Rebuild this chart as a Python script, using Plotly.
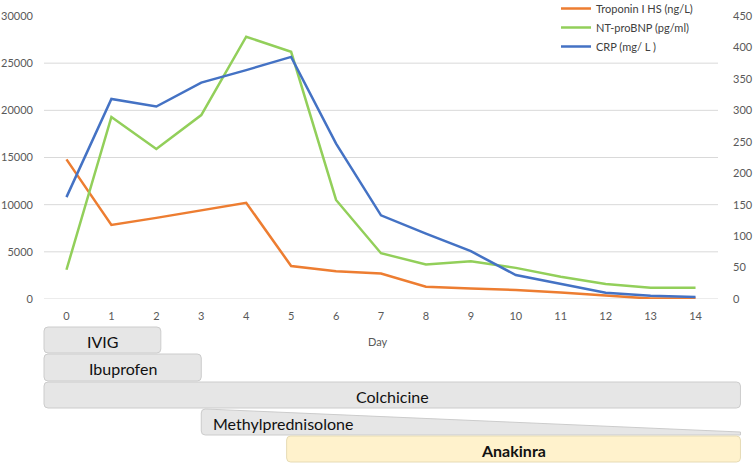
import plotly.graph_objects as go

# ---------------- data ----------------
days = list(range(15))
troponin = [14800, 7850, 8600, 9400, 10200, 3500, 2950, 2700, 1300, 1100, 950, 700, 350, 50, 50]
ntprobnp = [3100, 19300, 15900, 19500, 27800, 26200, 10500, 4850, 3650, 4000, 3300, 2350, 1600, 1200, 1200]
crp = [162, 318, 306, 344, 364, 385, 247, 133, 104, 76, 38, 24, 10, 5, 3]

left_ticks = [0, 5000, 10000, 15000, 20000, 25000, 30000]
right_ticks = [0, 50, 100, 150, 200, 250, 300, 350, 400, 450]

treatments = ["IVIG", "Ibuprofen", "Colchicine", "Methylprednisolone", "Anakinra"]
treat_start = [-0.5, -0.5, -0.5, 3.0, 4.9]
treat_end = [2.1, 3.0, 15.0, 15.0, 15.0]

# ---------------- layout constants ----------------
W, H = 753, 467
ML, MR, MT, MB = 44, 35, 16, 168
PW = W - ML - MR
PH = H - MT - MB
XR = [-0.5, 14.5]
FONT = "Lato"
TICK_COLOR = "#595959"
GRID = "#d9d9d9"


def px_y(p):
    """pixel row -> paper y"""
    return (H - MB - p) / PH


def day_x(d):
    return (d - XR[0]) / (XR[1] - XR[0])


def px_x(p):
    return (p - ML) / PW


fig = go.Figure()
fig.add_trace(go.Scatter(x=days, y=troponin, name="Troponin I HS (ng/L)", mode="lines",
                         line=dict(color="#ED7D31", width=2.5), yaxis="y"))
fig.add_trace(go.Scatter(x=days, y=ntprobnp, name="NT-proBNP (pg/ml)", mode="lines",
                         line=dict(color="#92CF5A", width=2.5), yaxis="y"))
fig.add_trace(go.Scatter(x=days, y=crp, name="CRP (mg/ L )", mode="lines",
                         line=dict(color="#4472C4", width=2.5), yaxis="y2"))

shapes = []
# gridlines (no line at the top value)
for v in left_ticks[:-1]:
    shapes.append(dict(type="line", xref="paper", yref="y", x0=0, x1=1, y0=v, y1=v,
                       line=dict(color=GRID, width=1), layer="below"))


def rrect(x0, x1, y0, y1, r=4):
    """rounded rectangle path in paper coords; y0 = top pixel, y1 = bottom pixel"""
    rx = r / PW
    ry = r / PH
    X0, X1 = px_x(x0), px_x(x1)
    YT, YB = px_y(y0), px_y(y1)
    return (f"M {X0+rx},{YT} L {X1-rx},{YT} Q {X1},{YT} {X1},{YT-ry} "
            f"L {X1},{YB+ry} Q {X1},{YB} {X1-rx},{YB} L {X0+rx},{YB} "
            f"Q {X0},{YB} {X0},{YB+ry} L {X0},{YT-ry} Q {X0},{YT} {X0+rx},{YT} Z")


rows = [(327, 353), (354, 381), (382, 408), (409, 435), (436, 462)]
fills = ["#e6e6e6", "#e6e6e6", "#e6e6e6", "#e6e6e6", "#fff2cc"]
borders = ["#cccccc", "#cccccc", "#cccccc", "#cccccc", "#e6dbb5"]
annotations = []
for i, name in enumerate(treatments):
    x0p = ML + day_x(treat_start[i]) * PW
    x1p = ML + day_x(treat_end[i]) * PW
    y0, y1 = rows[i]
    if name == "Methylprednisolone":
        rx = 4 / PW
        ry = 4 / PH
        X0, X1 = px_x(x0p), px_x(x1p)
        YT, YB = px_y(y0), px_y(y1)
        YTR = px_y(432)
        path = (f"M {X0+rx},{YT} L {X1},{YTR} L {X1},{YB} L {X0+rx},{YB} "
                f"Q {X0},{YB} {X0},{YB+ry} L {X0},{YT-ry} Q {X0},{YT} {X0+rx},{YT} Z")
        tx, xanchor = px_x(x0p + 10), "left"
    else:
        path = rrect(x0p, x1p, y0, y1)
        tx, xanchor = px_x((x0p + x1p) / 2), "center"
    shapes.append(dict(type="path", xref="paper", yref="paper", path=path,
                       fillcolor=fills[i], line=dict(color=borders[i], width=1), layer="above"))
    annotations.append(dict(x=tx, y=px_y((y0 + y1) / 2 + 1), xref="paper", yref="paper",
                            text=f"<b>{name}</b>" if name == "Anakinra" else name,
                            showarrow=False, xanchor=xanchor, yanchor="middle",
                            font=dict(family=FONT, size=16, color="#111111")))

annotations.append(dict(x=px_x(378), y=px_y(341), xref="paper", yref="paper", text="Day",
                        showarrow=False, xanchor="center", yanchor="middle",
                        font=dict(family=FONT, size=11, color=TICK_COLOR)))

fig.update_layout(
    width=W, height=H, autosize=False,
    margin=dict(l=ML, r=MR, t=MT, b=MB, autoexpand=False),
    paper_bgcolor="white", plot_bgcolor="white",
    font=dict(family=FONT, size=11, color=TICK_COLOR),
    xaxis=dict(range=XR, tickvals=days, ticktext=[str(d) for d in days], showgrid=False,
               zeroline=False, showline=False, ticks="", ticklabelstandoff=9, automargin=False,
               tickfont=dict(family=FONT, size=11, color=TICK_COLOR)),
    yaxis=dict(range=[0, 30000], tickvals=left_ticks, ticktext=[str(v) for v in left_ticks],
               showgrid=False, zeroline=False, automargin=False,
               showline=False, ticks="", ticklabelstandoff=10,
               tickfont=dict(family=FONT, size=11, color=TICK_COLOR)),
    yaxis2=dict(range=[0, 450], tickvals=right_ticks, ticktext=[str(v) for v in right_ticks],
                overlaying="y", side="right", automargin=False,
                showgrid=False, zeroline=False, showline=False, ticks="", ticklabelstandoff=14,
                tickfont=dict(family=FONT, size=11, color=TICK_COLOR)),
    legend=dict(x=px_x(556), y=px_y(-6), xanchor="left", yanchor="top",
                bgcolor="rgba(0,0,0,0)", font=dict(family=FONT, size=11, color="#404040"),
                itemwidth=30, tracegroupgap=0),
    shapes=shapes,
    annotations=annotations,
    showlegend=True,
)

fig.write_html("out.html", config={"displayModeBar": False},
               post_script="document.body.style.margin='0';document.body.style.overflow='hidden';")
